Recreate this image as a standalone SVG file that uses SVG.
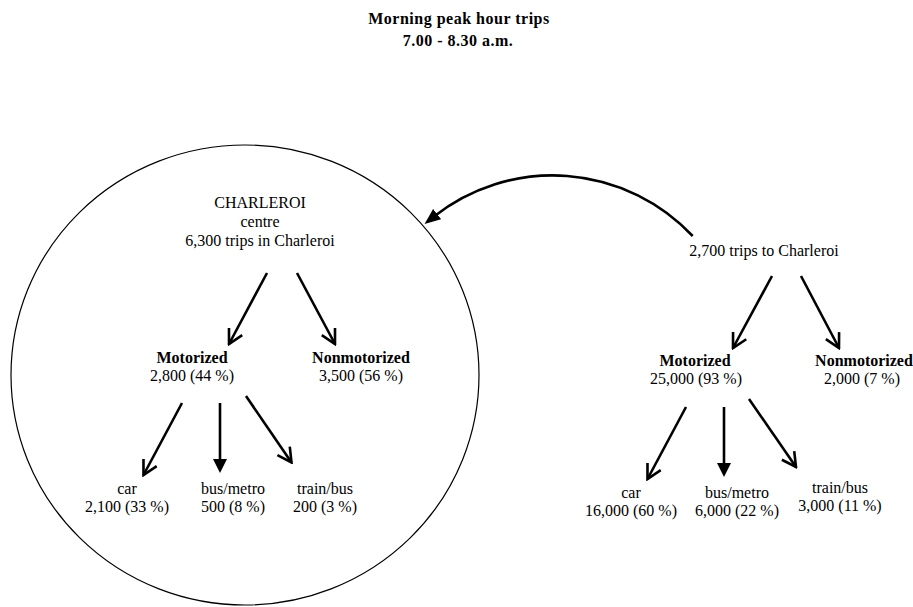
<svg xmlns="http://www.w3.org/2000/svg" width="913" height="607" viewBox="0 0 913 607">
  <style>
    text { font-family: "Liberation Serif", "Times New Roman", serif; font-size: 16px; fill: #000; text-anchor: middle; }
    .b { font-weight: bold; }
    .title { font-weight: bold; font-size: 16px; letter-spacing: 0.5px; }
    .ln { stroke: #000; stroke-width: 2.6; fill: none; }
    .zone { stroke: #000; stroke-width: 1.2; fill: none; }
  </style>
  <defs>
    <marker id="open" viewBox="0 0 18 18" refX="16" refY="9" markerWidth="18" markerHeight="18" markerUnits="userSpaceOnUse" orient="auto">
      <path d="M2,1.5 L16,9 L2,16.5" fill="none" stroke="#000" stroke-width="2.6"/>
    </marker>
    <marker id="fill" viewBox="0 0 16 16" refX="4" refY="8" markerWidth="16" markerHeight="16" markerUnits="userSpaceOnUse" orient="auto">
      <path d="M0,1 L14,8 L0,15 Z" fill="#000"/>
    </marker>
    <marker id="fillc" viewBox="0 0 18 14" refX="4" refY="7" markerWidth="18" markerHeight="14" markerUnits="userSpaceOnUse" orient="auto">
      <path d="M0,0.5 L16,7 L0,13.5 Z" fill="#000"/>
    </marker>
  </defs>

  <g id="title">
    <text class="title" x="459" y="24">Morning peak hour trips</text>
    <text class="title" x="458" y="46">7.00 - 8.30 a.m.</text>
  </g>

  <g id="charleroi-zone">
    <ellipse class="zone" cx="245" cy="375" rx="234" ry="230"/>
  </g>

  <g id="charleroi-centre">
    <text x="260" y="208">CHARLEROI</text>
    <text x="260" y="227">centre</text>
    <text x="260" y="246">6,300 trips in Charleroi</text>
  </g>
  <g id="c-motorized">
    <text class="b" x="192" y="363">Motorized</text>
    <text x="192" y="381">2,800 (44 %)</text>
  </g>
  <g id="c-nonmotorized">
    <text class="b" x="361" y="363">Nonmotorized</text>
    <text x="361" y="381">3,500 (56 %)</text>
  </g>
  <g id="c-car">
    <text x="127" y="494">car</text>
    <text x="127" y="512">2,100 (33 %)</text>
  </g>
  <g id="c-bus">
    <text x="233" y="494">bus/metro</text>
    <text x="233" y="512">500 (8 %)</text>
  </g>
  <g id="c-train">
    <text x="325" y="494">train/bus</text>
    <text x="325" y="512">200 (3 %)</text>
  </g>

  <g id="outside">
    <text x="764" y="256">2,700 trips to Charleroi</text>
  </g>
  <g id="o-motorized">
    <text class="b" x="695" y="366">Motorized</text>
    <text x="696" y="384">25,000 (93 %)</text>
  </g>
  <g id="o-nonmotorized">
    <text class="b" x="864" y="366">Nonmotorized</text>
    <text x="862" y="384">2,000 (7 %)</text>
  </g>
  <g id="o-car">
    <text x="631" y="498">car</text>
    <text x="631" y="516">16,000 (60 %)</text>
  </g>
  <g id="o-bus">
    <text x="737" y="498">bus/metro</text>
    <text x="737" y="516">6,000 (22 %)</text>
  </g>
  <g id="o-train">
    <text x="840" y="493">train/bus</text>
    <text x="840" y="511">3,000 (11 %)</text>
  </g>

  <g id="connectors">
    <path class="ln" d="M692.7,236 A192,192 0 0,0 434,216.5" marker-end="url(#fillc)"/>
    <line class="ln" x1="267" y1="273" x2="229" y2="344" marker-end="url(#open)"/>
    <line class="ln" x1="297" y1="273" x2="335" y2="344" marker-end="url(#open)"/>
    <line class="ln" x1="182" y1="403" x2="143.5" y2="475" marker-end="url(#open)"/>
    <line class="ln" x1="220" y1="403" x2="220" y2="463" marker-end="url(#fill)"/>
    <line class="ln" x1="246" y1="396" x2="291.5" y2="462.5" marker-end="url(#open)"/>
    <line class="ln" x1="772" y1="276" x2="733" y2="348" marker-end="url(#open)"/>
    <line class="ln" x1="801" y1="276" x2="839" y2="348" marker-end="url(#open)"/>
    <line class="ln" x1="686" y1="407" x2="647.5" y2="479" marker-end="url(#open)"/>
    <line class="ln" x1="724" y1="407" x2="724" y2="467" marker-end="url(#fill)"/>
    <line class="ln" x1="749" y1="399" x2="796" y2="467" marker-end="url(#open)"/>
  </g>
</svg>
